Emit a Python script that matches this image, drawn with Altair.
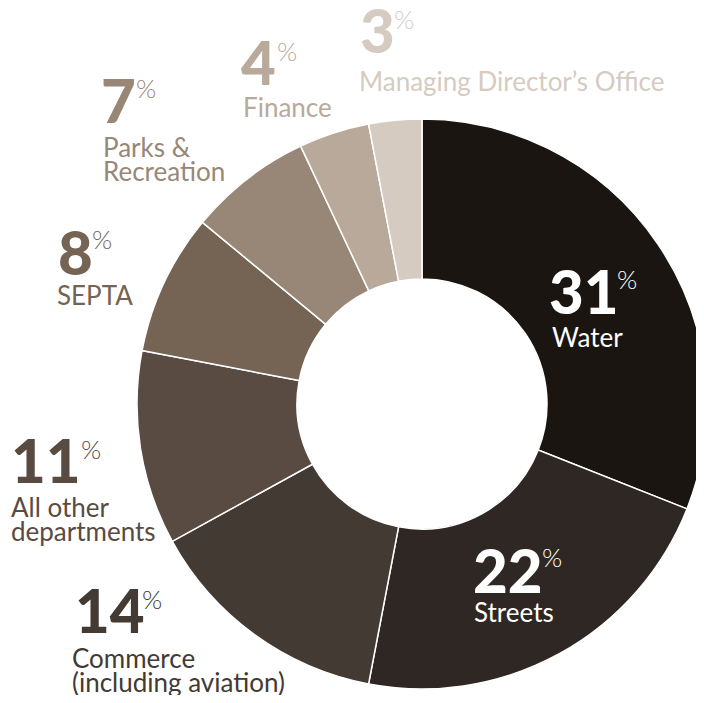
import altair as alt
import pandas as pd

# ---- data ----
departments = ["Water", "Streets", "Commerce (including aviation)", "All other departments",
               "SEPTA", "Parks & Recreation", "Finance", "Managing Director's Office"]
shares = [31, 22, 14, 11, 8, 7, 4, 3]
label_lines = [["Water"], ["Streets"], ["Commerce", "(including aviation)"],
               ["All other", "departments"], ["SEPTA"], ["Parks &", "Recreation"],
               ["Finance"], ["Managing Director\u2019s Office"]]

# ---- styles ----
slice_colors = ["#1a1511", "#2f2723", "#433a34", "#594b42", "#756354", "#988777", "#b8a99b", "#d5cbc1"]
label_colors = ["#ffffff", "#ffffff", "#433a34", "#594b42", "#756354", "#988777", "#b8a99b", "#d5cbc1"]

# label anchors in view pixels (annotation layout)
num_xy = [(541, 306), (465, 585), (67, 625), (3, 475), (50, 267), (93, 115), (233, 77), (352, 45)]
pct_xy = [(609, 281), (534, 559), (134, 601), (73, 451), (84, 241), (128, 90), (269, 53), (386, 21)]
name_xy = [(544, 339), (466, 614), (64, 660), (3, 509), (49, 297), (95, 149), (235, 109), (351, 83)]

CX, CY = 414, 396

pie_df = pd.DataFrame({
    "dept": departments,
    "share": shares,
    "order": list(range(len(shares))),
    "color": slice_colors,
})

lab_df = pd.DataFrame({
    "dept": departments,
    "num": [str(s) for s in shares],
    "pct": ["%"] * len(shares),
    "name": label_lines,
    "lcolor": label_colors,
    "nx": [p[0] for p in num_xy], "ny": [p[1] for p in num_xy],
    "px": [p[0] for p in pct_xy], "py": [p[1] for p in pct_xy],
    "tx": [p[0] for p in name_xy], "ty": [p[1] for p in name_xy],
})

pie = alt.Chart(pie_df).mark_arc(
    innerRadius=125, outerRadius=285, stroke="white", strokeWidth=1.5
).encode(
    theta=alt.Theta("share:Q", stack=True),
    color=alt.Color("color:N", scale=None),
    order=alt.Order("order:Q", sort="ascending"),
    x=alt.value(CX), y=alt.value(CY),
)

base = alt.Chart(lab_df)
nums = base.mark_text(font="Lato", fontSize=60, fontWeight=900, align="left",
                      baseline="alphabetic").encode(
    x=alt.X("nx:Q", scale=None), y=alt.Y("ny:Q", scale=None),
    text="num:N", color=alt.Color("lcolor:N", scale=None))
pcts = base.mark_text(font="Lato", fontSize=26, fontWeight=300, align="left",
                      baseline="alphabetic").encode(
    x=alt.X("px:Q", scale=None), y=alt.Y("py:Q", scale=None),
    text="pct:N", color=alt.Color("lcolor:N", scale=None))
names = base.mark_text(font="Lato", fontSize=26, fontWeight=400, align="left",
                       baseline="alphabetic", lineHeight=24).encode(
    x=alt.X("tx:Q", scale=None), y=alt.Y("ty:Q", scale=None),
    text="name", color=alt.Color("lcolor:N", scale=None))

chart = alt.layer(pie, nums, pcts, names).properties(
    width=688, height=687, autosize=alt.AutoSizeParams(type="none"), padding=0
).configure_view(stroke=None)

chart.save("out.html", embed_options={"renderer": "svg", "actions": False})
